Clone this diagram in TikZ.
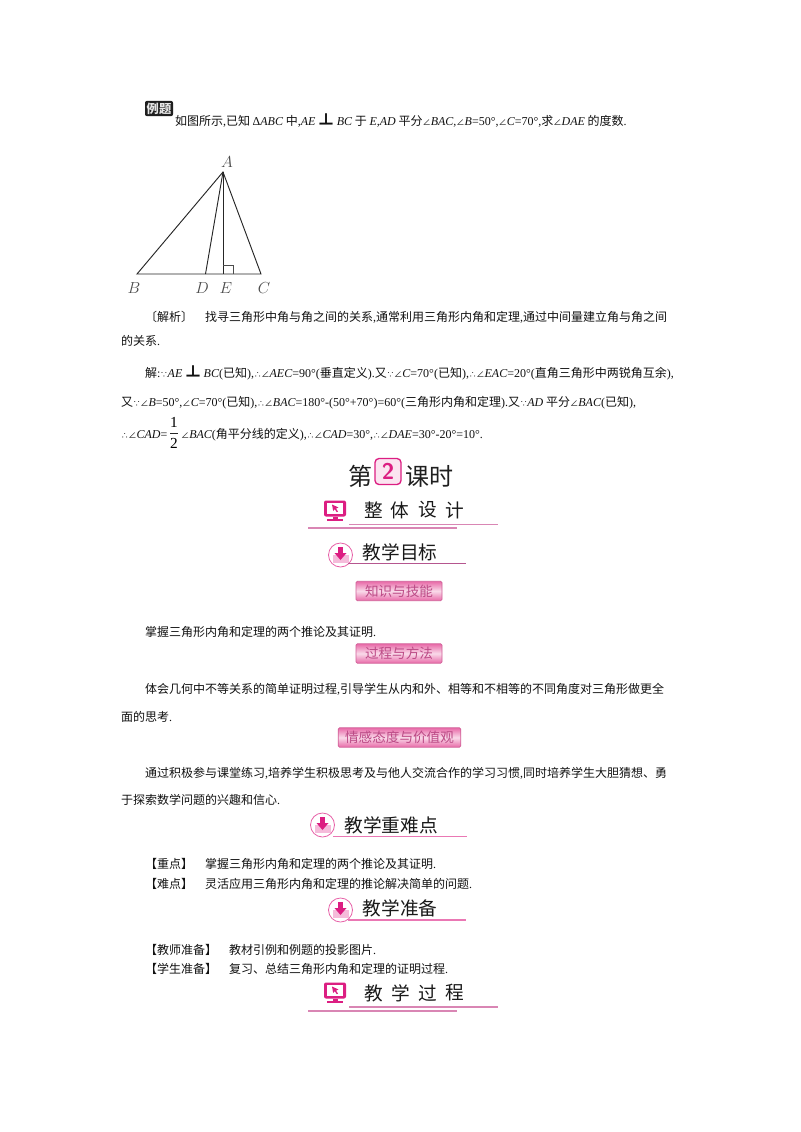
\documentclass[tikz,border=0pt]{standalone}
\usepackage{fontspec}
\setmainfont{Noto Sans CJK SC}
\newfontfamily\latfont{Liberation Serif}
\newcommand{\li}[1]{{\latfont\itshape #1}}
\newcommand{\la}[1]{{\latfont #1}}
\newcommand{\ang}{{\fontsize{6.2}{6.2}\selectfont ∠}}
\newcommand{\bec}{{\fontsize{5.5}{5.5}\selectfont ∵}}
\newcommand{\thr}{{\fontsize{5.5}{5.5}\selectfont ∴}}
\definecolor{mag}{HTML}{DC1E82}
\definecolor{rule}{HTML}{D986B4}
\definecolor{ruledk}{HTML}{B5568F}
\definecolor{btn}{HTML}{E86AA8}
\definecolor{btntxt}{HTML}{BC4A86}
\definecolor{txt}{HTML}{111111}
\tikzset{
  body/.style={anchor=base west,inner sep=0pt,outer sep=0pt,font=\fontsize{9}{9}\selectfont,text=txt},
  ptlabel/.style={inner sep=0pt,font=\fontsize{11.5}{11.5}\selectfont,text=black!70},
  edge/.style={line width=0.7pt,black!85},
  head/.style={inner sep=0pt,font=\fontsize{14}{14}\selectfont,text=black!90},
  spaced/.style={inner sep=0pt,font=\fontsize{14}{14}\selectfont,text=black!90},
  rulel/.style={line width=1pt,rule},
  ruled/.style={line width=1pt,ruledk},
  btnbox/.style={draw=btn!90!black,line width=0.6pt,rounded corners=1pt,inner sep=0pt,minimum height=14.5pt,
    top color=btn,bottom color=btn,middle color=white!75!btn,text=btntxt,font=\fontsize{10.2}{10.2}\selectfont}
}
\newcommand{\monitor}[2]{%
  \begin{scope}[shift={(#1,#2)}]
    \fill[mag,rounded corners=1.5pt] (-11,-10.5) rectangle (11,5.5);
    \fill[white] (-8,-8) rectangle (8,3);
    \fill[mag] (-3,-6.5) -- (3.5,-3.5) -- (1,-2.4) -- (3,0.5) -- (1.8,1.2) -- (-0.3,-1.8) -- (-1.8,0) -- cycle;
    \fill[mag] (-2.5,5.5) rectangle (2.5,8);
    \fill[mag] (-8,8) rectangle (8,10);
  \end{scope}}
\newcommand{\downcirc}[2]{%
  \begin{scope}[shift={(#1,#2)}]
    \draw[line width=0.6pt,mag!70,fill=white] (0,0) circle (12);
    \fill[mag!30] (-8,0) rectangle (8,8);
    \fill[mag] (-2.5,-8) rectangle (2.5,-1);
    \fill[mag] (-6,-2) -- (6,-2) -- (0,5) -- cycle;
  \end{scope}}
\begin{document}
\begin{tikzpicture}[x=0.75pt,y=-0.75pt]
\useasboundingbox (0,0) rectangle (800,1132);
\fill[white] (0,0) rectangle (800,1132);
% badge
\node[fill=black!88,rounded corners=1.5pt,text=white!90!black,minimum width=21pt,minimum height=11.5pt,inner sep=0pt,font=\fontsize{9.2}{9.2}\selectfont\bfseries] (badge) at (159,108.5) {例题};
\node[body] (l1) at (175,125) {如图所示\la{,}已知 {\la{Δ}}\li{ABC} 中\la{,}\li{AE} {\large\bfseries ⊥} \li{BC} 于 \li{E,AD} 平分\ang\li{BAC,}\ang\li{B}\la{=50°,}\ang\li{C}\la{=70°,}求\ang\li{DAE} 的度数\la{.}};
% triangle
\coordinate (A) at (223,172);
\coordinate (B) at (137,274);
\coordinate (D) at (205.5,274);
\coordinate (E) at (223,274);
\coordinate (C) at (261,274);
\coordinate (R1) at (233,274);
\coordinate (R2) at (233,265);
\coordinate (R3) at (223,265);
\draw[edge] (A) -- (B) -- (C) -- cycle;
\draw[edge] (A) -- (D);
\draw[edge] (A) -- (E);
\draw[line width=0.5pt,black!70] (R3) -- (R2) -- (R1);
\node[ptlabel] (lA) at (227,162) {$A$};
\node[ptlabel] (lB) at (134,288) {$B$};
\node[ptlabel] (lD) at (202,288) {$D$};
\node[ptlabel] (lE) at (226,288) {$E$};
\node[ptlabel] (lC) at (264,288) {$C$};
% analysis
\node[body] (a1a) at (145,321) {〔解析〕};
\node[body] (a1b) at (205,321) {找寻三角形中角与角之间的关系\la{,}通常利用三角形内角和定理\la{,}通过中间量建立角与角之间};
\node[body] (a2) at (121,345) {的关系\la{.}};
\node[body] (s1) at (145,377) {解\la{:}\bec\li{AE} {\large\bfseries ⊥} \li{BC}\la{(}已知\la{),}\thr\ang\li{AEC}\la{=90°(}垂直定义\la{).}又\bec\ang\li{C}\la{=70°(}已知\la{),}\thr\ang\li{EAC}\la{=20°(}直角三角形中两锐角互余\la{),}};
\node[body] (s2) at (121,406) {又\bec\ang\li{B}\la{=50°,}\ang\li{C}\la{=70°(}已知\la{),}\thr\ang\li{BAC}\la{=180°-(50°+70°)=60°(}三角形内角和定理\la{).}又\bec\li{AD} 平分\ang\li{BAC}\la{(}已知\la{),}};
\node[body] (s3a) at (121,438) {\thr\ang\li{CAD}\la{=}};
\node[inner sep=0pt,font=\fontsize{11.5}{11.5}\selectfont\latfont] (frac1) at (174,422.5) {1};
\node[inner sep=0pt,font=\fontsize{11.5}{11.5}\selectfont\latfont] (frac2) at (174,443.5) {2};
\coordinate (f1) at (170,433); \coordinate (f2) at (178,433);
\draw[line width=0.5pt,black!85] (f1) -- (f2);
\node[body] (s3b) at (181,438) {\ang\li{BAC}\la{(}角平分线的定义\la{),}\thr\ang\li{CAD}\la{=30°,}\thr\ang\li{DAE}\la{=30°-20°=10°.}};
% lesson heading
\node[inner sep=0pt,font=\fontsize{18}{18}\selectfont,text=black!88] (h1) at (360,476) {第};
\node[draw=mag,line width=1pt,rounded corners=3pt,fill=mag!12,text=mag,minimum width=19.5pt,minimum height=19.5pt,inner sep=0pt,font=\fontsize{17}{17}\selectfont\bfseries\sffamily] (h2) at (388,471.5) {2};
\node[inner sep=0pt,font=\fontsize{18}{18}\selectfont,text=black!88] (h3) at (429,476) {课时};
% whole design
\monitor{335}{511}
\node[spaced] (d1) at (374,510) {整};
\node[spaced] (d2) at (400,510) {体};
\node[spaced] (d3) at (428,510) {设};
\node[spaced] (d4) at (455,510) {计};
\coordinate (u1) at (349,524.7); \coordinate (u2) at (498,524.7);
\coordinate (v1) at (308,528); \coordinate (v2) at (457,528);
\draw[rulel] (u1) -- (u2); \draw[rulel] (v1) -- (v2);
% objectives
\downcirc{340.5}{555}
\node[head] (o) at (400,552) {教学目标};
\coordinate (o1) at (348,563.7); \coordinate (o2) at (466,563.7);
\draw[ruled] (o1) -- (o2);
\node[btnbox,minimum width=64.5pt] (b1) at (399,591) {知识与技能};
\node[body] (t1) at (145,636) {掌握三角形内角和定理的两个推论及其证明\la{.}};
\node[btnbox,minimum width=64.5pt] (b2) at (399,653.5) {过程与方法};
\node[body] (t2) at (145,693) {体会几何中不等关系的简单证明过程\la{,}引导学生从内和外、相等和不相等的不同角度对三角形做更全};
\node[body] (t3) at (121,721) {面的思考\la{.}};
\node[btnbox,minimum width=92pt] (b3) at (399.5,737.5) {情感态度与价值观};
\node[body] (t4) at (145,777) {通过积极参与课堂练习\la{,}培养学生积极思考及与他人交流合作的学习习惯\la{,}同时培养学生大胆猜想、勇};
\node[body] (t5) at (121,804) {于探索数学问题的兴趣和信心\la{.}};
% key points
\downcirc{322.5}{825}
\node[head] (k) at (391,825) {教学重难点};
\coordinate (k1) at (333,836.7); \coordinate (k2) at (467,836.7);
\draw[rulel,mag!60] (k1) -- (k2);
\node[body] (k3) at (145,868) {【重点】};
\node[body] (k4) at (205,868) {掌握三角形内角和定理的两个推论及其证明\la{.}};
\node[body] (k5) at (145,888) {【难点】};
\node[body] (k6) at (205,888) {灵活应用三角形内角和定理的推论解决简单的问题\la{.}};
% preparation
\downcirc{340.5}{910}
\node[head] (p) at (400,908) {教学准备};
\coordinate (p1) at (348,920); \coordinate (p2) at (466,920);
\draw[rulel,mag!60] (p1) -- (p2);
\node[body] (p3) at (145,954) {【教师准备】};
\node[body] (p4) at (229,954) {教材引例和例题的投影图片\la{.}};
\node[body] (p5) at (145,973) {【学生准备】};
\node[body] (p6) at (229,973) {复习、总结三角形内角和定理的证明过程\la{.}};
% process
\monitor{335}{993}
\node[spaced] (g1) at (374,993) {教};
\node[spaced] (g2) at (401,993) {学};
\node[spaced] (g3) at (428,993) {过};
\node[spaced] (g4) at (455,993) {程};
\coordinate (w1) at (349,1007); \coordinate (w2) at (498,1007);
\coordinate (z1) at (308,1011); \coordinate (z2) at (457,1011);
\draw[rulel] (w1) -- (w2); \draw[rulel] (z1) -- (z2);
\end{tikzpicture}
\end{document}
